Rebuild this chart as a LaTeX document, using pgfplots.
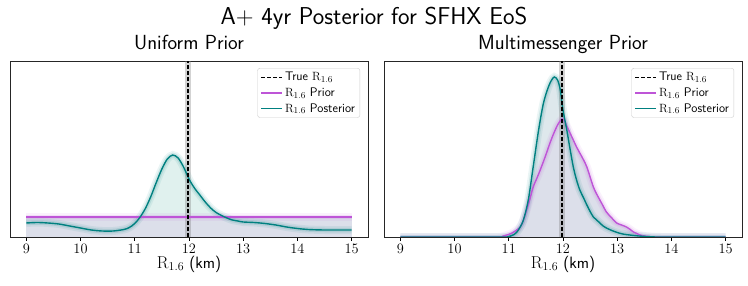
\documentclass[border=0pt]{standalone}
\usepackage{pgfplots}
\pgfplotsset{compat=1.18}
\renewcommand{\familydefault}{\sfdefault}
\definecolor{tealc}{RGB}{0,128,128}
\definecolor{purpc}{RGB}{190,85,215}
\definecolor{greyfill}{RGB}{220,223,234}
\definecolor{tealfill}{RGB}{224,241,238}
\definecolor{mixfill}{RGB}{222,232,236}

\pgfplotstableread{
x y
9.0 14
9.2 14.5
9.4 14
9.6 13
9.8 11
10.0 9
10.2 7
10.4 6
10.6 6
10.8 7.5
10.9 9.5
11.0 13.5
11.1 20
11.2 29
11.3 41
11.4 55
11.5 68
11.6 78
11.7 82
11.8 79
11.9 70
12.0 58
12.1 49
12.2 42
12.3 35
12.4 29
12.5 24.5
12.6 21.5
12.7 19
12.8 17
12.9 16
13.0 15
13.2 14.5
13.4 13.5
13.6 12
13.8 10
14.0 8.5
14.2 7.5
14.5 7
15.0 7
}\postU

\pgfplotstableread{
x y
9.0 20
15.0 20
}\priorU

\pgfplotstableread{
x y
9.0 0
10.9 0
11.0 0.5
11.1 2.5
11.15 5
11.2 9
11.27 17
11.36 37
11.45 70
11.55 107
11.64 134
11.73 150
11.79 157
11.84 160
11.9 157
11.95 147
12.0 127
12.07 107
12.13 88
12.19 70
12.25 57
12.31 47
12.38 39
12.44 32
12.5 25.5
12.56 20
12.62 17
12.68 14
12.74 11
12.8 9
12.9 6.5
13.0 4.5
13.1 3
13.23 2
13.4 1
13.6 0.3
13.8 0
15.0 0
}\postM

\pgfplotstableread{
x y
9.0 0
10.8 0
10.9 1
11.06 4
11.21 10
11.27 17
11.33 27
11.39 38
11.45 50
11.52 59
11.58 67
11.67 80
11.76 94
11.84 105
11.91 113
11.98 118
12.03 116
12.07 111
12.13 104
12.19 97
12.25 90
12.31 84
12.38 77
12.44 70
12.5 60
12.56 50
12.62 43
12.68 37
12.74 31
12.8 25
12.9 19
12.99 14
13.08 12
13.17 10
13.24 7.5
13.3 5
13.36 3.5
13.42 2
13.5 1
13.6 0.4
13.7 0
15.0 0
}\priorM

\pgfplotstableread{
x y
11.98 0
11.98 176
}\truel

\pgfplotsset{
  panel/.style={
    scale only axis,
    width=358bp, height=176bp,
    anchor=south west,
    xmin=8.7, xmax=15.3, ymin=0, ymax=176,
    xtick={9,10,11,12,13,14,15},
    ytick=\empty,
    xtick pos=bottom,
    tick align=outside,
    major tick length=3.5bp,
    tick style={black, line width=0.7bp},
    axis line style={black!85, line width=0.8bp},
    xticklabel style={font=\fontsize{15.5}{16}\selectfont},
    xlabel={$\mathrm{R}_{1.6}$ (km)},
    xlabel style={font=\fontsize{16.5}{18}\selectfont, at={(0.5,0)}, anchor=base, yshift=-31bp},
    title style={font=\fontsize{20.5}{22}\selectfont, at={(0.5,1)}, anchor=base, yshift=6bp},
    legend cell align=left,
    legend style={at={(0.978,0.96)}, anchor=north east,
      draw=black!20, rounded corners=2.5bp, fill=white, fill opacity=0.85, text opacity=1,
      font=\fontsize{12.5}{14}\selectfont, inner xsep=3bp, inner ysep=2bp,
      row sep=1.5bp},
    legend image code/.code={\draw[##1] (0bp,0bp) -- (21bp,0bp);},
    glow1/.style={line width=8bp, opacity=0.08, forget plot},
    glow2/.style={line width=4.5bp, opacity=0.13, forget plot},
  }
}

\begin{document}
\begin{tikzpicture}
\useasboundingbox (0,0) rectangle (748bp,286bp);
\node[anchor=base, font=\fontsize{24.5}{28}\selectfont] at (374bp,261bp) {A+ 4yr Posterior for SFHX EoS};

% Left panel
\begin{axis}[panel, at={(10bp,49bp)}, title={Uniform Prior}]
\addlegendimage{black, dashed, dash pattern=on 4bp off 2bp, line width=1.5bp}
\addlegendentry{True $\mathrm{R}_{1.6}$}
\addlegendimage{purpc, line width=1.4bp}
\addlegendentry{$\mathrm{R}_{1.6}$ Prior}
\addlegendimage{tealc, line width=1.4bp}
\addlegendentry{$\mathrm{R}_{1.6}$ Posterior}
\addplot[fill=tealfill, draw=none, forget plot] table[x=x,y=y] {\postU} \closedcycle;
\addplot[fill=greyfill, draw=none, forget plot] table[x=x,y=y] {\priorU} \closedcycle;
\addplot[purpc, glow1] table[x=x,y=y] {\priorU};
\addplot[purpc, glow2] table[x=x,y=y] {\priorU};
\addplot[tealc, glow1, smooth] table[x=x,y=y] {\postU};
\addplot[tealc, glow2, smooth] table[x=x,y=y] {\postU};
\addplot[gray, line width=6bp, opacity=0.35, forget plot] table[x=x,y=y] {\truel};
\addplot[purpc, line width=1.4bp, forget plot] table[x=x,y=y] {\priorU};
\addplot[tealc, line width=1.4bp, smooth, forget plot] table[x=x,y=y] {\postU};
\addplot[black, dash pattern=on 4bp off 2bp, line width=1.5bp, forget plot] table[x=x,y=y] {\truel};
\end{axis}

% Right panel
\begin{axis}[panel, at={(384bp,49bp)}, title={Multimessenger Prior}]
\addlegendimage{black, dashed, dash pattern=on 4bp off 2bp, line width=1.5bp}
\addlegendentry{True $\mathrm{R}_{1.6}$}
\addlegendimage{purpc, line width=1.4bp}
\addlegendentry{$\mathrm{R}_{1.6}$ Prior}
\addlegendimage{tealc, line width=1.4bp}
\addlegendentry{$\mathrm{R}_{1.6}$ Posterior}
\addplot[fill=mixfill, draw=none, smooth, forget plot] table[x=x,y=y] {\postM} \closedcycle;
\addplot[fill=greyfill, draw=none, smooth, forget plot] table[x=x,y=y] {\priorM} \closedcycle;
\addplot[purpc, glow1, smooth] table[x=x,y=y] {\priorM};
\addplot[purpc, glow2, smooth] table[x=x,y=y] {\priorM};
\addplot[tealc, glow1, smooth] table[x=x,y=y] {\postM};
\addplot[tealc, glow2, smooth] table[x=x,y=y] {\postM};
\addplot[gray, line width=6bp, opacity=0.35, forget plot] table[x=x,y=y] {\truel};
\addplot[purpc, line width=1.4bp, smooth, forget plot] table[x=x,y=y] {\priorM};
\addplot[tealc, line width=1.4bp, smooth, forget plot] table[x=x,y=y] {\postM};
\addplot[black, dash pattern=on 4bp off 2bp, line width=1.5bp, forget plot] table[x=x,y=y] {\truel};
\end{axis}
\end{tikzpicture}
\end{document}
